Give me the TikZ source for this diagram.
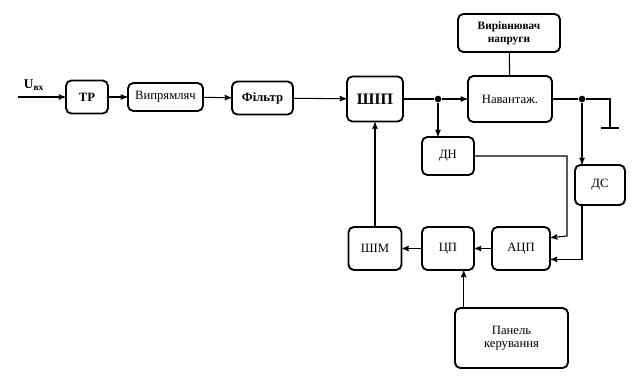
\documentclass[tikz,border=0pt]{standalone}
\usepackage{fontspec}
\setmainfont{Liberation Serif}
\usepackage{tikz}
\usetikzlibrary{arrows,%
                shapes,positioning}

\tikzset{blok/.style={draw, rounded corners=4pt, line width=1.4pt, inner sep=1pt, align=center, font=\rmfamily\fontsize{9.5}{10}\selectfont},
         tochka/.style={circle, fill, inner sep=0pt, minimum size=5pt}}

\begin{document}
\begin{tikzpicture}[x=0.75pt,y=-0.75pt,>=stealth',line width=0.8pt]
\useasboundingbox (0,0) rectangle (637,376);
% blocks
\node[blok,minimum width=31.5pt,minimum height=24.75pt] (tr) at (87,97) {\textbf{ТР}};
\node[blok,minimum width=56.25pt,minimum height=21pt] (vypr) at (165.5,97) {Випрямляч};
\node[blok,minimum width=45.75pt,minimum height=24.75pt] (filtr) at (262.5,98) {\textbf{Фільтр}};
\node[blok,minimum width=42pt,minimum height=33.75pt,font=\rmfamily\fontsize{12}{13}\selectfont] (ship) at (375,99) {\textbf{ШІП}};
\node[blok,minimum width=63pt,minimum height=34.5pt] (navant) at (510,99) {Навантаж.};
\node[blok,minimum width=76.5pt,minimum height=28.5pt,font=\rmfamily\fontsize{8.5}{9.5}\selectfont] (vyrivn) at (509,33) {\textbf{Вирівнювач}\\\textbf{напруги}};
\node[blok,minimum width=39pt,minimum height=28.5pt] (dn) at (448,156) {ДН};
\node[blok,minimum width=37.5pt,minimum height=30pt] (ds) at (600,185) {ДС};
\node[blok,minimum width=43.5pt,minimum height=32.25pt] (adc) at (521,248.5) {АЦП};
\node[blok,minimum width=39pt,minimum height=32.25pt] (cp) at (448,248.5) {ЦП};
\node[blok,minimum width=39.75pt,minimum height=32.25pt] (shim) at (375,248.5) {ШІМ};
\node[blok,minimum width=84.75pt,minimum height=45pt] (panel) at (511.5,338) {Панель\\керування};
% input
\coordinate (uin) at (18,97);
\node[font=\rmfamily\fontsize{10}{11}\selectfont] (uvx) at (34,85) {\textbf{U\textsubscript{вх}}};
\node[tochka] (j1) at (438,99) {};
\node[tochka] (j2) at (582,99) {};
\coordinate (zem) at (610,128);
% connections
\draw[->] (uin) -- (tr);
\draw[->] (tr) -- (vypr);
\draw[->] (vypr) -- (filtr);
\draw[->] (filtr) -- (ship);
\draw (ship) -- (j1);
\draw[->] (j1) -- (navant);
\draw[->] (j1) -- (j1 |- dn.north);
\draw (vyrivn) -- (navant);
\draw (navant) -- (j2) -| (zem);
\draw ([xshift=-7pt]zem) -- ([xshift=7pt]zem);
\draw[->] (j2) -- (j2 |- ds.north);
\draw[->] (dn.east) -| (567,236) -- (adc.20);
\draw[->] (j2 |- ds.south) |- (adc.-20);
\draw[->] (adc) -- (cp);
\draw[->] (cp) -- (shim);
\draw[->] (shim) -- (ship);
\draw[->] (panel.north -| cp.-55) -- (cp.-55);
\end{tikzpicture}
\end{document}
